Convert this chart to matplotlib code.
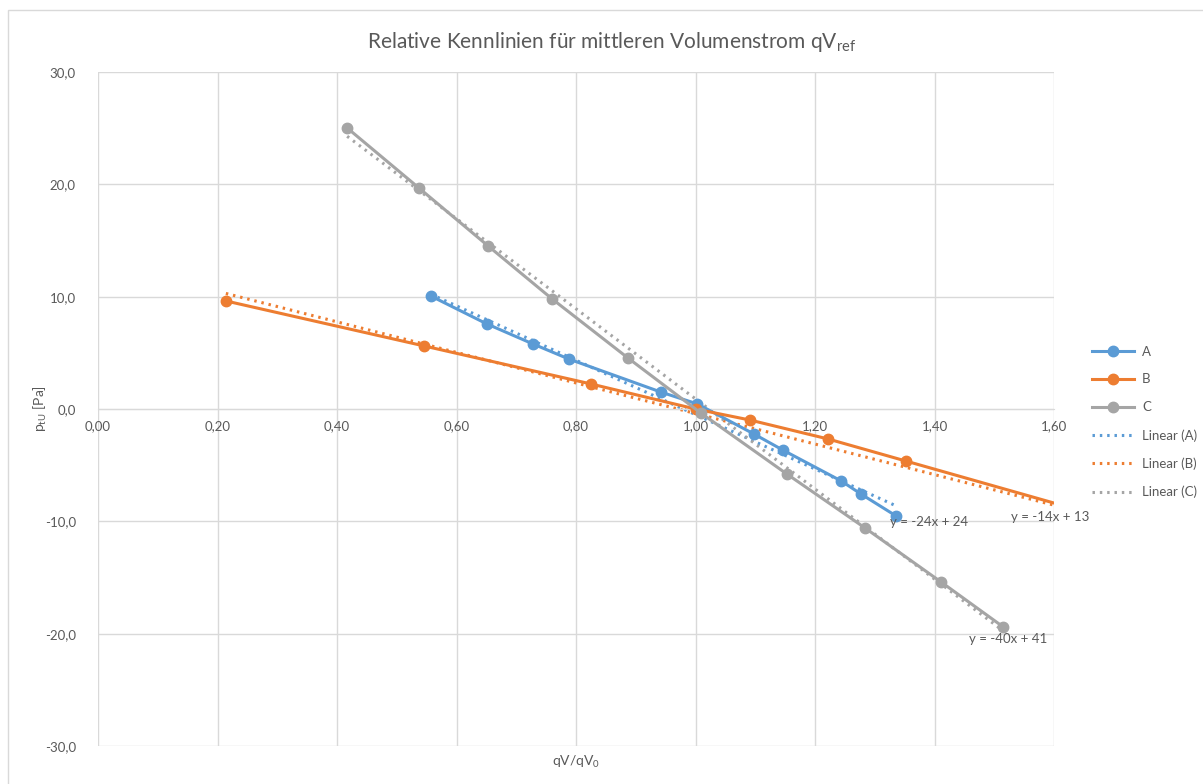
import numpy as np
import matplotlib.pyplot as plt
from matplotlib.patches import Rectangle

# --- data ---
a_x = [0.557, 0.651, 0.728, 0.788, 0.942, 1.003, 1.098, 1.146, 1.244, 1.277, 1.336]
a_y = [10.06, 7.57, 5.79, 4.45, 1.51, 0.45, -2.23, -3.65, -6.41, -7.57, -9.53]

b_x = [0.214, 0.546, 0.825, 1.000, 1.091, 1.222, 1.352, 1.700]
b_y = [9.62, 5.61, 2.23, 0.00, -0.98, -2.67, -4.63, -9.88]

c_x = [0.417, 0.537, 0.653, 0.760, 0.887, 1.009, 1.153, 1.284, 1.411, 1.515]
c_y = [25.02, 19.68, 14.51, 9.80, 4.54, -0.36, -5.79, -10.60, -15.40, -19.40]

# linear trend coefficients (slope, intercept)
trend_slope = [-24.2, -13.6, -40.1]
trend_icpt = [23.7, 13.2, 41.0]

names = ["A", "B", "C"]
colors = ["#5B9BD5", "#ED7D31", "#A5A5A5"]
xticks = [0.0, 0.2, 0.4, 0.6, 0.8, 1.0, 1.2, 1.4, 1.6]
yticks = [-30, -20, -10, 0, 10, 20, 30]

txt = "#595959"
grid = "#D9D9D9"
plt.rcParams["font.family"] = ["Lato", "DejaVu Sans"]

fig = plt.figure(figsize=(12.03, 7.84), dpi=100)
# chart border
fig.patches.append(Rectangle((8 / 1203, -0.1), 1.2, 1.1 - 10 / 784,
                             transform=fig.transFigure, fill=False,
                             edgecolor=grid, lw=1))
ax = fig.add_axes([98 / 1203, 38 / 784, 956 / 1203, 674 / 784])

# --- series + trendlines ---
series = [(a_x, a_y), (b_x, b_y), (c_x, c_y)]
handles = []
trend_handles = []
for (xs, ys), name, col in zip(series, names, colors):
    h, = ax.plot(xs, ys, color=col, lw=2.2, marker="o", ms=7.5, label=name, zorder=3)
    handles.append(h)
for (xs, ys), name, col, m, b in zip(series, names, colors, trend_slope, trend_icpt):
    tx = np.array([min(xs), max(xs)])
    t, = ax.plot(tx, m * tx + b, color=col, lw=2.2, ls=(0, (0.8, 1.6)),
                 label=f"Linear ({name})", zorder=2)
    trend_handles.append(t)

# equation labels
label_pos = [(1.391, -10.06), (1.593, -9.62), (1.523, -20.48)]
for (lx, ly), m, b in zip(label_pos, trend_slope, trend_icpt):
    sign = "+" if b >= 0 else "-"
    ax.text(lx, ly, f"y = {round(m)}x {sign} {abs(round(b))}", color=txt,
            fontsize=9.5, ha="center", va="center", clip_on=False, zorder=5)

# --- axes ---
ax.set_xlim(0, 1.6)
ax.set_ylim(-30, 30)
ax.set_xticks(xticks)
ax.set_yticks(yticks)
ax.set_xticklabels([f"{v:.2f}".replace(".", ",") for v in xticks])
ax.set_yticklabels([f"{v:.1f}".replace(".", ",") for v in yticks])
ax.grid(True, color=grid, lw=1)
ax.set_axisbelow(True)
for s in ["top", "right", "left"]:
    ax.spines[s].set_visible(False)
ax.spines["bottom"].set_position(("data", 0))
ax.spines["bottom"].set_color(grid)
ax.tick_params(axis="both", length=0, colors=txt, labelsize=9.5)
ax.tick_params(axis="x", pad=8)
ax.tick_params(axis="y", pad=16)

fig.text(612 / 1203, 1 - 42 / 784, "Relative Kennlinien für mittleren Volumenstrom qV$_\\mathregular{ref}$",
         ha="center", va="center", fontsize=15, color=txt)
fig.text(576 / 1203, 1 - 762 / 784, "qV/qV$_\\mathregular{0}$", ha="center", va="center",
         fontsize=10, color=txt)
fig.text(40 / 1203, 1 - 409 / 784, "p$_\\mathregular{tU}$ [Pa]", ha="center", va="center",
         rotation=90, fontsize=10, color=txt)

leg = fig.legend(handles + trend_handles, [h.get_label() for h in handles + trend_handles],
                 loc="center left", bbox_to_anchor=(1080 / 1203, 1 - 422 / 784),
                 frameon=False, fontsize=9.5, handlelength=3.2, labelspacing=1.2,
                 handletextpad=0.6)
for t in leg.get_texts():
    t.set_color(txt)

fig.savefig("out.png", dpi=100)
